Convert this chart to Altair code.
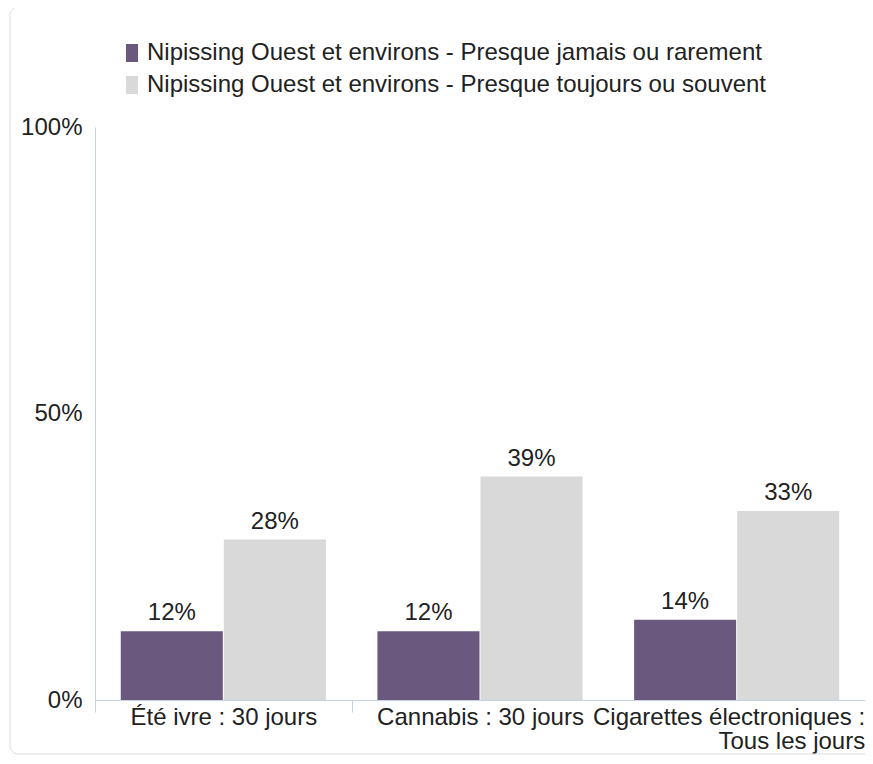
import altair as alt
import pandas as pd

categories = ["Été ivre : 30 jours", "Cannabis : 30 jours", "Cigarettes électroniques :|Tous les jours"]
series = ["Nipissing Ouest et environs - Presque jamais ou rarement",
          "Nipissing Ouest et environs - Presque toujours ou souvent"]
rarely = [0.12, 0.12, 0.14]
often = [0.28, 0.39, 0.33]
colors = ["#6a587e", "#d9d9d9"]

rows = []
for c, a, b in zip(categories, rarely, often):
    rows.append({"cat": c, "serie": series[0], "val": a})
    rows.append({"cat": c, "serie": series[1], "val": b})
df = pd.DataFrame(rows)

FONT = "Liberation Sans"
FS = 24
TXT = "#222222"
AXC = "#c4d4e8"
third = categories[2]
second = categories[1]

x = alt.X("cat:N", sort=categories, title=None,
          scale=alt.Scale(paddingInner=0, paddingOuter=0),
          axis=alt.Axis(labelAngle=0, labelFont=FONT, labelFontSize=FS, labelColor=TXT,
                        labelExpr="split(datum.label, '|')", labelLineHeight=24, labelLimit=500,
                        labelAlign={"condition": {"test": f"datum.value == '{third}'", "value": "right"}, "value": "center"},
                        labelOffset={"condition": {"test": f"datum.value == '{third}'", "value": 128}, "value": 0},
                        domainColor=AXC, tickSize=12, tickBand="extent",
                        tickOpacity={"condition": {"test": f"datum.value == '{second}'", "value": 0}, "value": 1},
                        tickColor=AXC,
                        labelPadding=-7, labelBaseline="top"))
y = alt.Y("val:Q", title=None, scale=alt.Scale(domain=[0, 1]),
          axis=alt.Axis(values=[0, 0.5, 1], format=".0%", grid=False, ticks=False,
                        labelFont=FONT, labelFontSize=FS, labelColor=TXT, labelPadding=13,
                        domainColor=AXC))
xo = alt.XOffset("serie:N", sort=series, scale=alt.Scale(paddingInner=0.01, paddingOuter=0.25))
color = alt.Color("serie:N", sort=series, scale=alt.Scale(domain=series, range=colors),
                  legend=alt.Legend(title=None, orient="none", legendX=25, legendY=-86,
                                    padding=0, rowPadding=8, labelOffset=3,
                                    symbolType="M-0.667,-1H0.667V1H-0.667Z", symbolSize=324,
                                    symbolStrokeWidth=0, symbolOpacity=1,
                                    labelFont=FONT, labelFontSize=FS, labelColor=TXT,
                                    labelLimit=800))

base = alt.Chart(df)
bars = base.mark_bar(opacity=1).encode(x=x, y=y, xOffset=xo, color=color)
labels = base.mark_text(font=FONT, fontSize=FS, color=TXT, baseline="middle", dy=-18).encode(
    x=alt.X("cat:N", sort=categories), xOffset=xo, y="val:Q", text=alt.Text("val:Q", format=".0%"))

border = alt.Chart(pd.DataFrame({"a": [0]})).mark_rect(
    fill=None, stroke="#dddddd", strokeWidth=1, cornerRadius=8).encode(
    x=alt.value(-85), x2=alt.value(800), y=alt.value(-120), y2=alt.value(627))

chart = alt.layer(border, bars, labels).properties(
    width=770, height=573, background="white",
    autosize=alt.AutoSizeParams(type="none"),
    padding={"left": 87, "top": 119, "right": 0, "bottom": 56},
).configure_view(strokeWidth=0, stroke=None)

chart.save("out.html", embed_options={"renderer": "svg", "actions": False})
